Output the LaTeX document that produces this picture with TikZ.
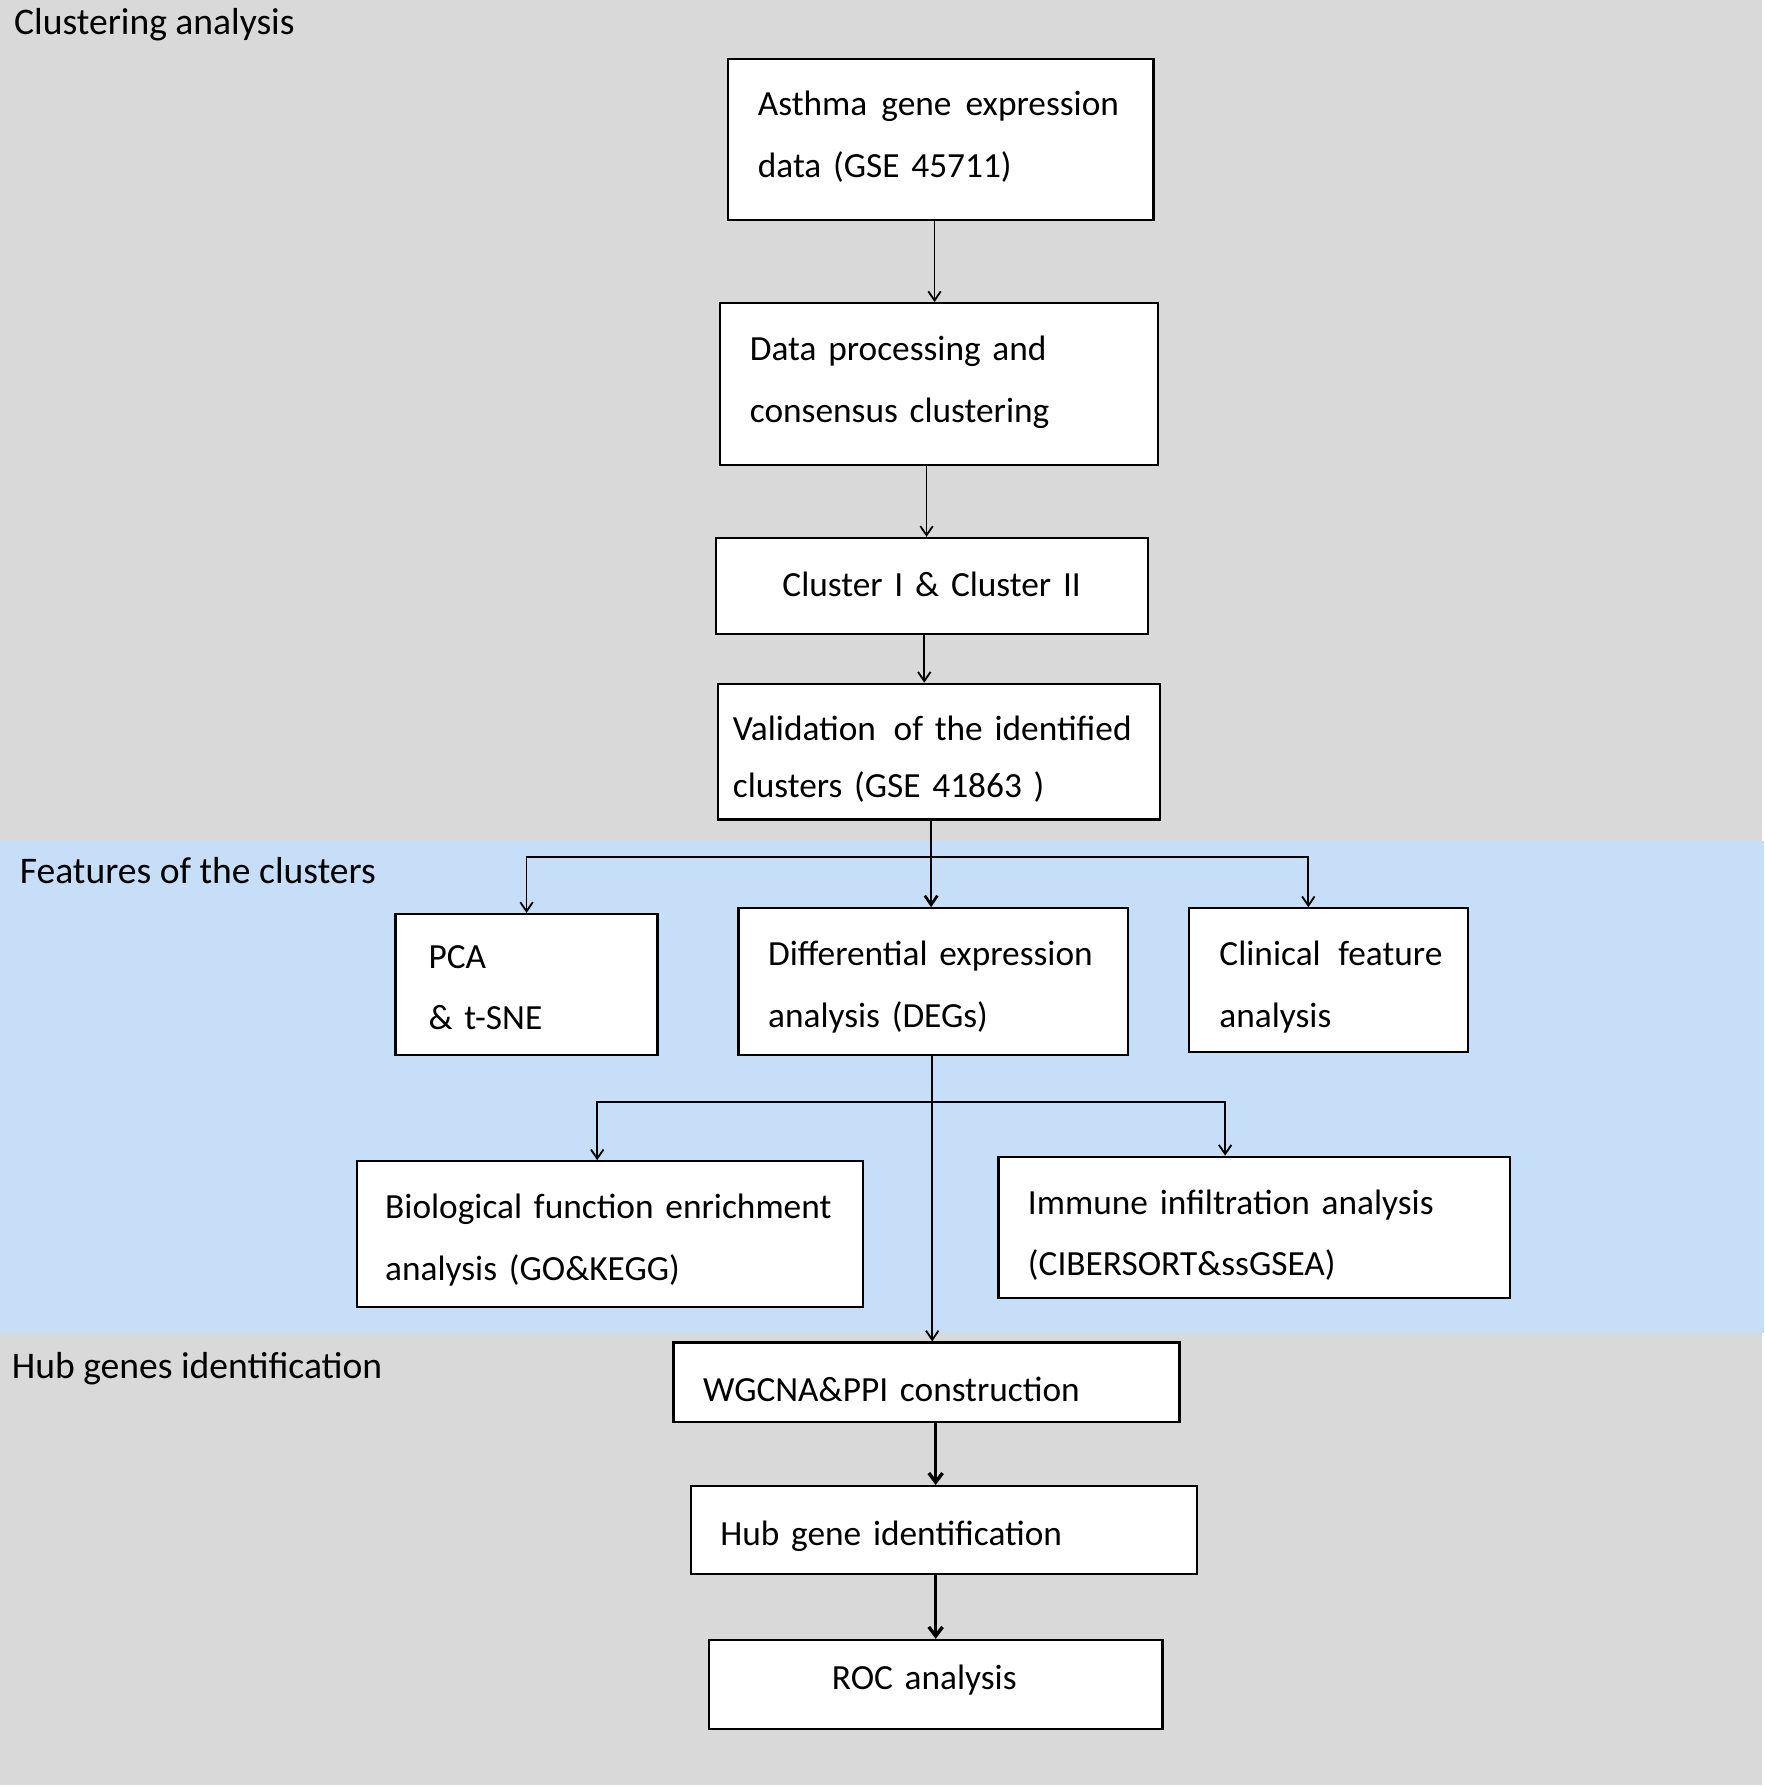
\documentclass[tikz,border=0pt]{standalone}
\usepackage{fontspec}
\setmainfont{Carlito}
\usetikzlibrary{arrows.meta}
\definecolor{bggray}{HTML}{D9D9D9}
\definecolor{bandblue}{HTML}{C6DEF7}
\tikzset{
  box/.style={draw=black, line width=1pt, fill=white, inner ysep=0pt, font=\fontsize{15.5}{27}\selectfont, align=left},
  two/.style={text height=#1, text depth=31pt},
  one/.style={text height=#1, text depth=4pt},
  hdr/.style={anchor=west, inner sep=0pt, font=\fontsize{16.5}{20}\selectfont},
  arr/.style={line width=0.8pt, -{Straight Barb[length=4pt,width=5.5pt]}},
  thickarr/.style={line width=1.5pt, -{Straight Barb[length=4pt,width=6pt]}},
  ln/.style={line width=1pt}
}
\begin{document}
\begin{tikzpicture}[x=0.5pt, y=-0.5pt]
\useasboundingbox (0,0) rectangle (1548,1568);
\fill[white] (0,0) rectangle (1548,1568);
\fill[bggray] (0,0) rectangle (1546,1566);
\fill[bandblue] (0,738) rectangle (1548,1170);

% headers
\node[hdr] (h1) at (12,22) {Clustering analysis};
\node[hdr] (h2) at (17,764) {Features of the clusters};
\node[hdr] (h3) at (10,1201) {Hub genes identification};

% boxes
\node[box, two=10pt, minimum width=186.5pt, minimum height=70.5pt, inner xsep=13pt, text width=160.5pt] (asthma) at (825.5,122.5)
  {\mbox{Asthma\hspace{0.4em}gene\hspace{0.4em}expression}\\\mbox{data (GSE 45711)}};
\node[box, two=10.5pt, minimum width=192pt, minimum height=71pt, inner xsep=13pt, text width=166pt] (proc) at (824,337)
  {\mbox{Data processing and}\\\mbox{consensus clustering}};
\node[box, one=13pt, minimum width=189.5pt, minimum height=42pt, inner xsep=0pt, text width=189.5pt, align=center] (clus) at (817.5,514)
  {\mbox{Cluster I \& Cluster II}};
\node[box, text height=19pt, text depth=29pt, minimum width=194pt, minimum height=59.5pt, inner xsep=6.5pt, text width=181pt] (valid) at (824,659.5)
  {\mbox{Validation\hspace{0.5em}of the identified}\\[-2pt]\mbox{clusters (GSE 41863 )}};
\node[box, two=16.5pt, minimum width=115pt, minimum height=62pt, inner xsep=14.5pt, text width=86pt] (pca) at (462,864)
  {\mbox{PCA}\\\mbox{\& t-SNE}};
\node[box, two=17pt, minimum width=171pt, minimum height=64.5pt, inner xsep=13pt, text width=145pt] (diff) at (819,861.5)
  {\mbox{Differential expression}\\\mbox{analysis (DEGs)}};
\node[box, two=18.5pt, minimum width=122.5pt, minimum height=63pt, inner xsep=13.5pt, text width=95.5pt] (clin) at (1165.5,860)
  {\mbox{Clinical\hspace{0.5em}feature}\\\mbox{analysis}};
\node[box, two=17.5pt, minimum width=222pt, minimum height=64pt, inner xsep=12.5pt, text width=197pt] (bio) at (535,1083)
  {\mbox{Biological function enrichment}\\\mbox{analysis (GO\&KEGG)}};
\node[box, two=19.5pt, minimum width=224.5pt, minimum height=62pt, inner xsep=13pt, text width=198.5pt] (imm) at (1100.5,1077)
  {\mbox{Immune infiltration analysis}\\\mbox{(CIBERSORT\&ssGSEA)}};
\node[box, one=21pt, minimum width=222pt, minimum height=35pt, inner xsep=13pt, text width=196pt] (wg) at (813,1213)
  {\mbox{WGCNA\&PPI construction}};
\node[box, one=17.5pt, minimum width=222pt, minimum height=38.5pt, inner xsep=13pt, text width=196pt] (hub) at (828,1342.5)
  {\mbox{Hub gene identification}};
\node[box, one=8pt, minimum width=199pt, minimum height=39pt, inner xsep=0pt, text width=199pt, align=center] (roc) at (821,1478)
  {\mbox{ROC analysis\kern10pt}};

% connector coordinates
\coordinate (x1) at (820,0);
\coordinate (x2) at (813,0);
\coordinate (x3) at (811,0);
\coordinate (b1) at (817,752);
\coordinate (b2) at (1148,752);
\coordinate (d1) at (818,967);
\coordinate (d2) at (524,967);
\coordinate (d3) at (1075,967);
\coordinate (x4) at (821,0);

% connectors
\draw[arr] (asthma.south -| x1) -- (proc.north -| x1);
\draw[arr] (proc.south -| x2) -- (clus.north -| x2);
\draw[arr] (clus.south -| x3) -- (valid.north -| x3);

\draw[ln] (valid.south -| b1) -- (b1);
\draw[arr] (b1) -| (pca.north);
\draw[arr] (b1) -- (b2) -- (b2 |- clin.north);
\draw[arr, line width=1.2pt] (b1) -- (diff.north -| b1);

\draw[arr] (diff.south -| d1) -- (wg.north -| d1);
\draw[arr] (d1) -- (d2) -- (d2 |- bio.north);
\draw[arr] (d1) -- (d3) -- (d3 |- imm.north);

\draw[thickarr] (wg.south -| x4) -- (hub.north -| x4);
\draw[thickarr] (hub.south -| x4) -- (roc.north -| x4);
\end{tikzpicture}
\end{document}
